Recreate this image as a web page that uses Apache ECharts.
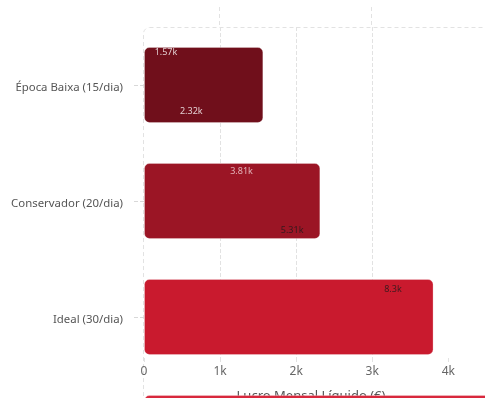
<!DOCTYPE html>
<html><head><meta charset="utf-8">
<script src="https://cdn.jsdelivr.net/npm/echarts@6/dist/echarts.min.js"></script>
<style>html,body{margin:0;padding:0;background:#fff;overflow:hidden;width:485px;height:398px}#c{width:900px;height:800px}</style>
</head><body><div id="c"></div>
<script>
const categories = ['Época Baixa (15/dia)', 'Conservador (20/dia)', 'Ideal (30/dia)', 'Otimista (40/dia)', 'Máximo (60/dia)'];
const profits = [1570, 2320, 3810, 5310, 8300];
const barColors = ['#700f1b', '#9b1525', '#c91a2e', '#d8283d', '#e63a4d'];
const labelColors = ['#ffffff', '#ffffff', '#f3d6da', '#1a1a1a', '#1a1a1a'];
const xTicks = [0, 1000, 2000, 3000, 4000];

const fmtK = v => v === 0 ? '0' : parseFloat((v / 1000).toFixed(2)) + 'k';
const FONT = 'Noto Sans';
const chart = echarts.init(document.getElementById('c'));
const option = {
  animation: false,
  textStyle: { fontFamily: FONT },
  grid: [
    { left: 144, top: 27, width: 334, height: 331 },
    { left: 144, top: 27, width: 700, height: 580 },
    { left: 113, top: 23, width: 337.3, height: 296 }
  ],
  xAxis: [
    { type: 'value', gridIndex: 0, min: xTicks[0], max: 4390, interval: 1000,
      axisLine: { show: false },
      axisTick: { show: true, length: 4, customValues: xTicks, lineStyle: { color: '#e2e2e2', type: 'dashed' } },
      axisLabel: { color: '#666', fontSize: 12, fontFamily: FONT, margin: 8, customValues: xTicks,
        formatter: v => fmtK(v) },
      splitLine: { show: true, showMinLine: false, showMaxLine: false, lineStyle: { color: '#e2e2e2', type: 'dashed' } },
      name: 'Lucro Mensal Líquido (€)', nameLocation: 'middle', nameGap: 32,
      nameTextStyle: { color: '#555', fontSize: 13, fontFamily: FONT } },
    { type: 'value', gridIndex: 1, min: 0, max: 9210.5, show: false },
    { type: 'value', gridIndex: 2, min: 0, max: 10000, show: false }
  ],
  yAxis: [
    { type: 'value', gridIndex: 0, min: 0, max: 1, show: false },
    { type: 'category', gridIndex: 1, data: categories, inverse: true, offset: 7,
      axisLine: { show: false },
      axisTick: { show: true, alignWithLabel: true, length: 10, lineStyle: { color: '#d8d8d8', type: 'dashed' } },
      axisLabel: { color: '#555', fontSize: 11.4, fontFamily: FONT, margin: 14, verticalAlign: 'top', lineHeight: 6 } },
    { type: 'category', gridIndex: 2, data: categories, inverse: true, show: false }
  ],
  series: [
    { type: 'bar', xAxisIndex: 1, yAxisIndex: 1, barWidth: 76,
      data: profits.map((v, i) => ({ value: v, itemStyle: { color: barColors[i] } })),
      itemStyle: { borderRadius: 5, borderColor: 'rgba(255,255,255,0.25)', borderWidth: 1 } },
    { type: 'scatter', xAxisIndex: 2, yAxisIndex: 2, symbolSize: 0, z: 5,
      data: profits.map((v, i) => ({ value: [v, i],
        label: { color: labelColors[i] } })),
      label: { show: true, position: 'inside', fontSize: 9, fontFamily: FONT,
        formatter: p => fmtK(p.value[0]) } }
  ]
};
chart.setOption(option);
const x1 = chart.convertToPixel({ xAxisIndex: 0 }, 1000);
const x3 = chart.convertToPixel({ xAxisIndex: 0 }, 3000);
const dash = { stroke: '#e2e2e2', lineDash: [4, 3], lineWidth: 1, fill: null };
chart.setOption({
  graphic: [
    { type: 'rect', shape: { x: 143.5, y: 27.5, width: 500, height: 500, r: 6 }, style: dash, z: -1, silent: true },
    { type: 'line', shape: { x1: Math.round(x1) - 0.5, y1: 7, x2: Math.round(x1) - 0.5, y2: 27 }, style: dash, silent: true },
    { type: 'line', shape: { x1: Math.round(x3) - 0.5, y1: 7, x2: Math.round(x3) - 0.5, y2: 27 }, style: dash, silent: true }
  ]
});
</script></body></html>
